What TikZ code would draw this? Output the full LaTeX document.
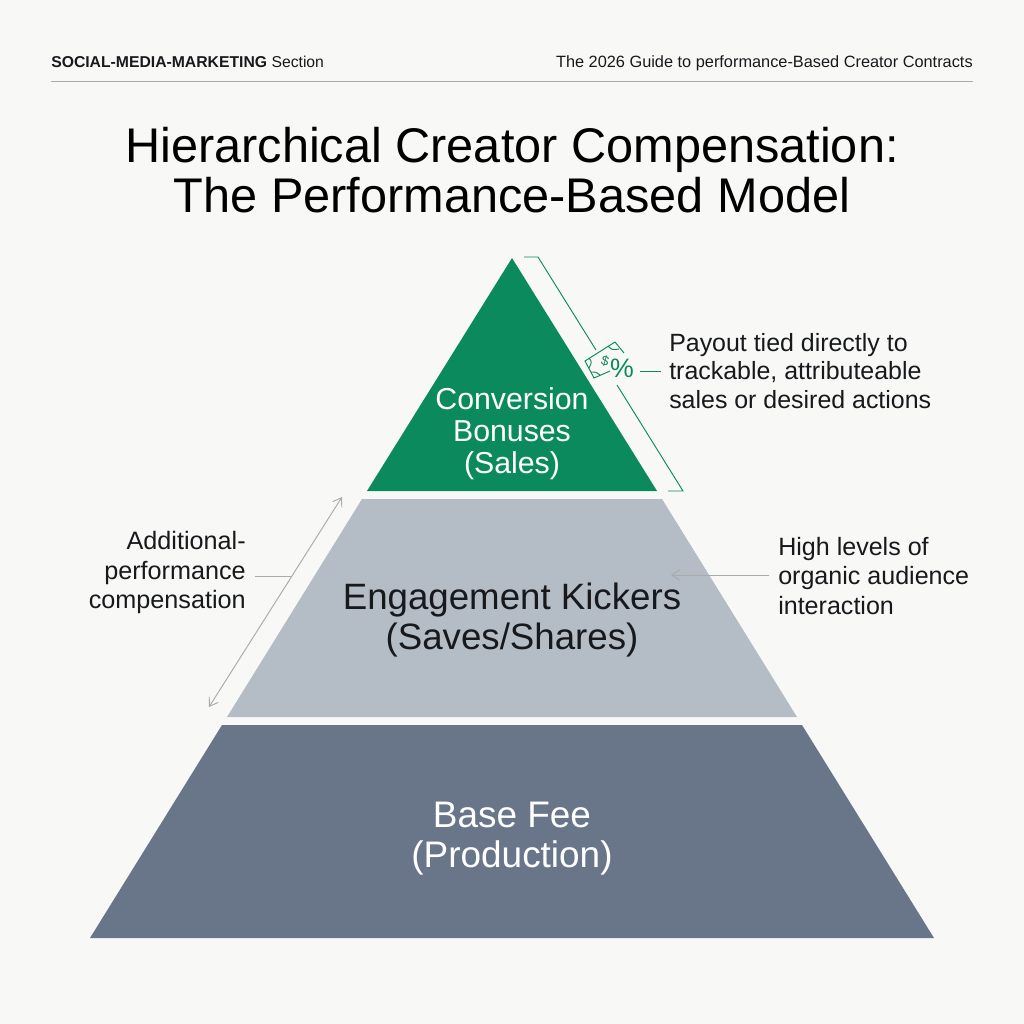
\documentclass[tikz,border=0pt]{standalone}
\usepackage{fontspec}
\setmainfont{Liberation Sans}
\usetikzlibrary{calc}
\usetikzlibrary{positioning}
\usetikzlibrary{arrows.meta}
\definecolor{paper}{HTML}{F8F8F6}
\definecolor{ink}{HTML}{17191C}
\definecolor{topgreen}{HTML}{0B8A5E}
\definecolor{midgrey}{HTML}{B4BCC6}
\definecolor{basegrey}{HTML}{69768A}
\definecolor{leadgrey}{HTML}{A8ABAE}
\tikzset{
    label text/.style={align=center, text=ink, font=\fontsize{22.7}{24}\selectfont},
    side text/.style={text=ink, font=\fontsize{18.9}{22}\selectfont},
    lead/.style={draw=leadgrey, line width=0.7pt},
    greenlead/.style={draw=topgreen, line width=0.7pt},
}
\begin{document}
\begin{tikzpicture}[x=0.75pt, y=-0.75pt]
    \fill[paper] (0, 0) rectangle (1024, 1024);
    \useasboundingbox (0, 0) rectangle (1024, 1024);

    % header
    \node[anchor=base west, inner sep=0pt, text=ink, font=\fontsize{11.8}{14}\selectfont] (sec) at (51, 68) {\textbf{SOCIAL-MEDIA-MARKETING} Section};
    \node[anchor=base east, inner sep=0pt, text=ink, font=\fontsize{12.25}{14}\selectfont] (guide) at (973, 68) {The 2026 Guide to performance-Based Creator Contracts};
    \coordinate (ruleL) at (51, 81);
    \coordinate (ruleR) at (973, 81);
    \draw[draw=leadgrey, line width=0.7pt] (ruleL) -- (ruleR);
    \node[align=center, text=black, font=\fontsize{36.5}{37.5}\selectfont] (title) at (512, 170) {Hierarchical Creator Compensation:\\The Performance-Based Model};

    % pyramid
    \fill[topgreen] (512, 258) -- (657, 491) -- (367, 491) -- cycle;
    \fill[midgrey] (362, 499) -- (662, 499) -- (797, 717) -- (227, 717) -- cycle;
    \fill[basegrey] (222, 725) -- (802, 725) -- (934, 938) -- (90, 938) -- cycle;
    \node[label text, text=white] (conv) at (512, 434) {Conversion\\Bonuses\\(Sales)};
    \node[label text, font=\fontsize{27.5}{30}\selectfont] (eng) at (512, 620) {Engagement Kickers\\(Saves/Shares)};
    \node[label text, text=white, font=\fontsize{27.7}{30}\selectfont] (base) at (512, 839) {Base Fee\\(Production)};

    % green bracket and icon
    \coordinate (b1) at (524, 257);
    \coordinate (b2) at (538, 257);
    \coordinate (b3) at (596, 350);
    \coordinate (b4) at (617, 385);
    \coordinate (b5) at (683, 491);
    \coordinate (b6) at (668, 491);
    \draw[greenlead] (b1) -- (b2) -- (b3);
    \draw[greenlead] (b4) -- (b5) -- (b6);
    \draw[greenlead] (610, 371) -- (594, 378) -- (585, 361) -- (615, 342) -- (624, 353);
    \draw[greenlead] (608, 346) .. controls (612, 350) .. (619, 349);
    \draw[greenlead] (589, 358) .. controls (592, 362) .. (589, 368);
    \draw[greenlead] (591, 372) .. controls (596, 372) .. (600, 375);
    \node[rotate=-15, inner sep=0pt, text=topgreen, font=\fontsize{10}{11}\selectfont] (dollar) at (605, 361) {\$};
    \node[inner sep=0pt, text=topgreen, font=\fontsize{20}{22}\selectfont] (pct) at (622, 368) {\%};

    % right notes
    \node[side text, anchor=west, align=left, inner sep=0pt, font=\fontsize{18.7}{21.6}\selectfont] (payout) at (669, 371) {Payout tied directly to\\trackable, attributeable\\sales or desired actions};
    \coordinate (payL) at (640, 371);
    \coordinate (payR) at (661, 371);
    \draw[greenlead] (payL) -- (payR);

    \node[side text, anchor=west, align=left, inner sep=0pt, font=\fontsize{18.8}{22}\selectfont] (high) at (778, 576) {High levels of\\organic audience\\interaction};
    \coordinate (highTip) at (671, 575);
    \coordinate (highEnd) at (769, 575);
    \draw[lead, -{Straight Barb[length=6pt, width=8pt]}] (highEnd) -- (highTip);

    % left note
    \node[side text, anchor=east, align=right, inner sep=0pt] (addl) at (246, 572.5) {Additional-\\performance\\compensation};
    \coordinate (arrLow) at (209, 707);
    \coordinate (arrHigh) at (342, 497);
    \coordinate (arrMid) at (291, 576);
    \coordinate (addlEnd) at (255, 576);
    \draw[lead, {Straight Barb[length=6pt, width=8pt]}-{Straight Barb[length=6pt, width=8pt]}] (arrLow) -- (arrHigh);
    \draw[lead] (addlEnd) -- (arrMid);
\end{tikzpicture}
\end{document}
